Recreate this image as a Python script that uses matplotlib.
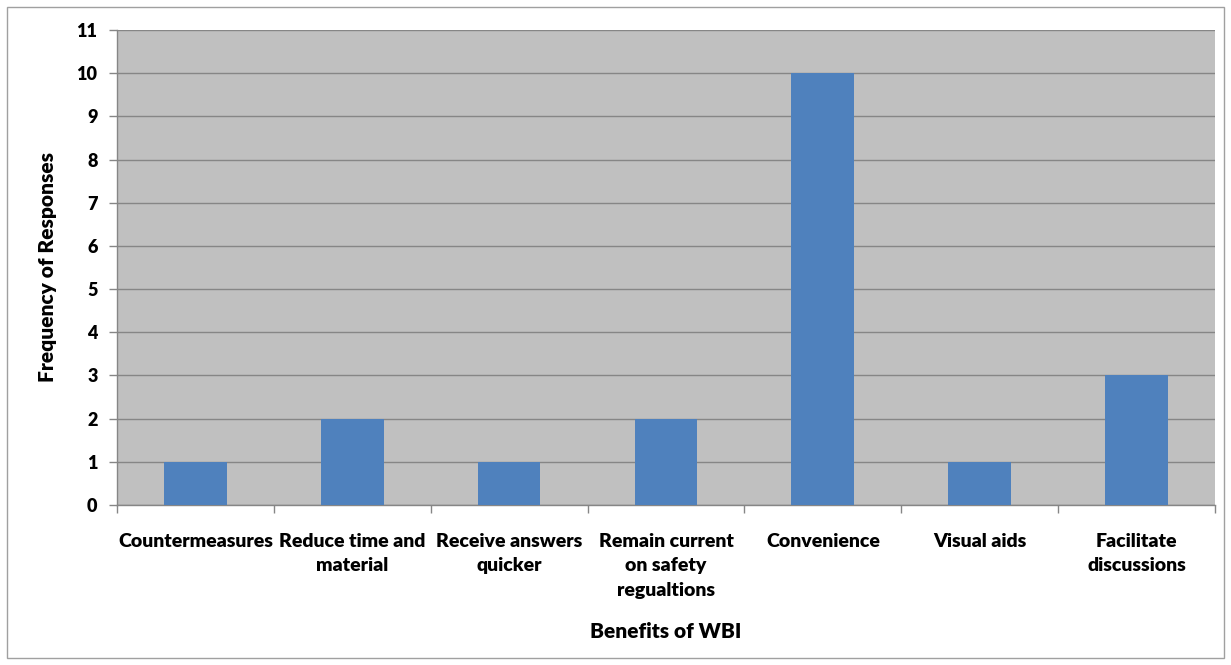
import matplotlib.pyplot as plt
from matplotlib.patches import Rectangle

categories = ['Countermeasures', 'Reduce time and\nmaterial', 'Receive answers\nquicker',
              'Remain current\non safety\nregualtions', 'Convenience', 'Visual aids',
              'Facilitate\ndiscussions']
responses = [1, 2, 1, 2, 10, 1, 3]

plt.rcParams['font.family'] = ['Lato', 'DejaVu Sans']
plt.rcParams['font.weight'] = 'bold'

fig = plt.figure(figsize=(12.31, 6.65), dpi=100)
ax = fig.add_axes([0.095, 0.2406, 0.892, 0.7143])
ax.set_facecolor('#C0C0C0')

x = list(range(len(categories)))
ax.bar(x, responses, width=0.4, color='#4F81BD', zorder=3)

ax.set_xlim(-0.5, len(categories) - 0.5)
ax.set_ylim(0, 11)
ax.set_yticks(range(0, 12))
ax.yaxis.grid(True, color='#868686', linewidth=1, zorder=0)
ax.set_axisbelow(True)

ax.set_xticks(x)
ax.set_xticklabels(categories, fontsize=14, fontweight='heavy', va='top', linespacing=1.55)
ax.set_xticks([i - 0.5 for i in range(len(categories) + 1)], minor=True)
ax.tick_params(axis='x', which='major', length=0, pad=20)
ax.tick_params(axis='x', which='minor', length=6, color='#868686', width=1)
ax.tick_params(axis='y', length=6, color='#868686', width=1, labelsize=13, pad=8)
for lbl in ax.get_yticklabels():
    lbl.set_fontweight('heavy')

for side in ['top', 'right']:
    ax.spines[side].set_visible(False)
for side in ['left', 'bottom']:
    ax.spines[side].set_color('#868686')
    ax.spines[side].set_linewidth(1)

ax.set_ylabel('Frequency of Responses', fontsize=15, fontweight='heavy', labelpad=14)
fig.text(0.5 * (0.095 + 0.987), 1 - 632 / 665, 'Benefits of WBI', ha='center', va='center',
         fontsize=15, fontweight='heavy')

fig.patches.append(Rectangle((7 / 1231, 7 / 665), 1217 / 1231, 651 / 665, transform=fig.transFigure,
                             fill=False, edgecolor='#A0A0A0', linewidth=1))

fig.savefig('out.png', dpi=100)
